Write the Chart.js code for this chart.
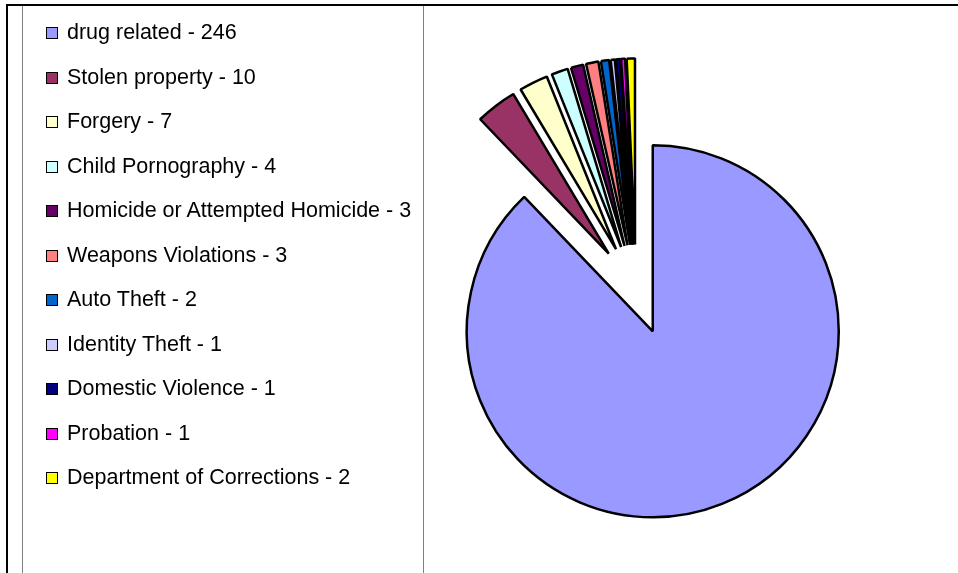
<!DOCTYPE html>
<html>
<head>
<meta charset="utf-8">
<script src="https://cdn.jsdelivr.net/npm/chart.js@4/dist/chart.umd.min.js"></script>
<style>
  html, body { margin: 0; padding: 0; background: #fff; }
  #wrap { position: relative; width: 958px; height: 573px; overflow: hidden; font-family: "Liberation Sans", Arial, sans-serif; }
  #my-chart { position: absolute; left: 0; top: 0; }
  .line { position: absolute; }
  #legend { position: absolute; left: 46px; top: 10px; }
  .item { height: 44.5px; line-height: 44.5px; font-size: 21.5px; color: #000; white-space: nowrap; }
  .box { display: inline-block; width: 10px; height: 10px; border: 1px solid #000; margin-right: 9px; vertical-align: 0px; }
</style>
</head>
<body>
<div id="wrap">
  <canvas id="my-chart" width="958" height="573"></canvas>
  <div class="line" style="left:6px;top:4px;width:952px;height:2px;background:#000"></div>
  <div class="line" style="left:6px;top:4px;width:2px;height:569px;background:#000"></div>
  <div class="line" style="left:22px;top:6px;width:1px;height:567px;background:#808080"></div>
  <div class="line" style="left:423px;top:6px;width:1px;height:567px;background:#808080"></div>
  <div id="legend"></div>
</div>
<script>
const categories = ["drug related", "Stolen property", "Forgery", "Child Pornography", "Homicide or Attempted Homicide", "Weapons Violations", "Auto Theft", "Identity Theft", "Domestic Violence", "Probation", "Department of Corrections"]
const counts = [246, 10, 7, 4, 3, 3, 2, 1, 1, 1, 2]
const colors = ["#9999FF", "#993366", "#FFFFCC", "#CCFFFF", "#660066", "#FF8080", "#0066CC", "#CCCCFF", "#000080", "#FF00FF", "#FFFF00"]

const EXPLODE = 45 // every slice pulled out from the center

window.onload = function () {
  // legend, built from the same arrays
  const legend = document.getElementById("legend")
  categories.forEach((name, i) => {
    const row = document.createElement("div")
    row.className = "item"
    row.innerHTML = `<span class="box" style="background:${colors[i]}"></span>${name} - ${counts[i]}`
    legend.appendChild(row)
  })

  const explode = {
    id: "explode",
    afterDatasetsUpdate(chart) {
      chart.getDatasetMeta(0).data.forEach((arc) => {
        const mid = (arc.startAngle + arc.endAngle) / 2
        arc.x += Math.cos(mid) * EXPLODE
        arc.y += Math.sin(mid) * EXPLODE
      })
    },
  }

  const ctx = document.getElementById("my-chart").getContext("2d")
  const chart = new Chart(ctx, {
    type: "pie",
    data: {
      labels: categories,
      datasets: [
        {
          data: counts,
          backgroundColor: colors,
          borderColor: "#000",
          borderWidth: 2.5,
        },
      ],
    },
    options: {
      responsive: false,
      animation: false,
      radius: 186,
      layout: { padding: { left: 314, top: 6, right: 0, bottom: 0 } },
      plugins: {
        legend: { display: false },
        tooltip: { enabled: false },
      },
      events: [],
    },
    plugins: [explode],
  })
}
</script>
</body>
</html>
